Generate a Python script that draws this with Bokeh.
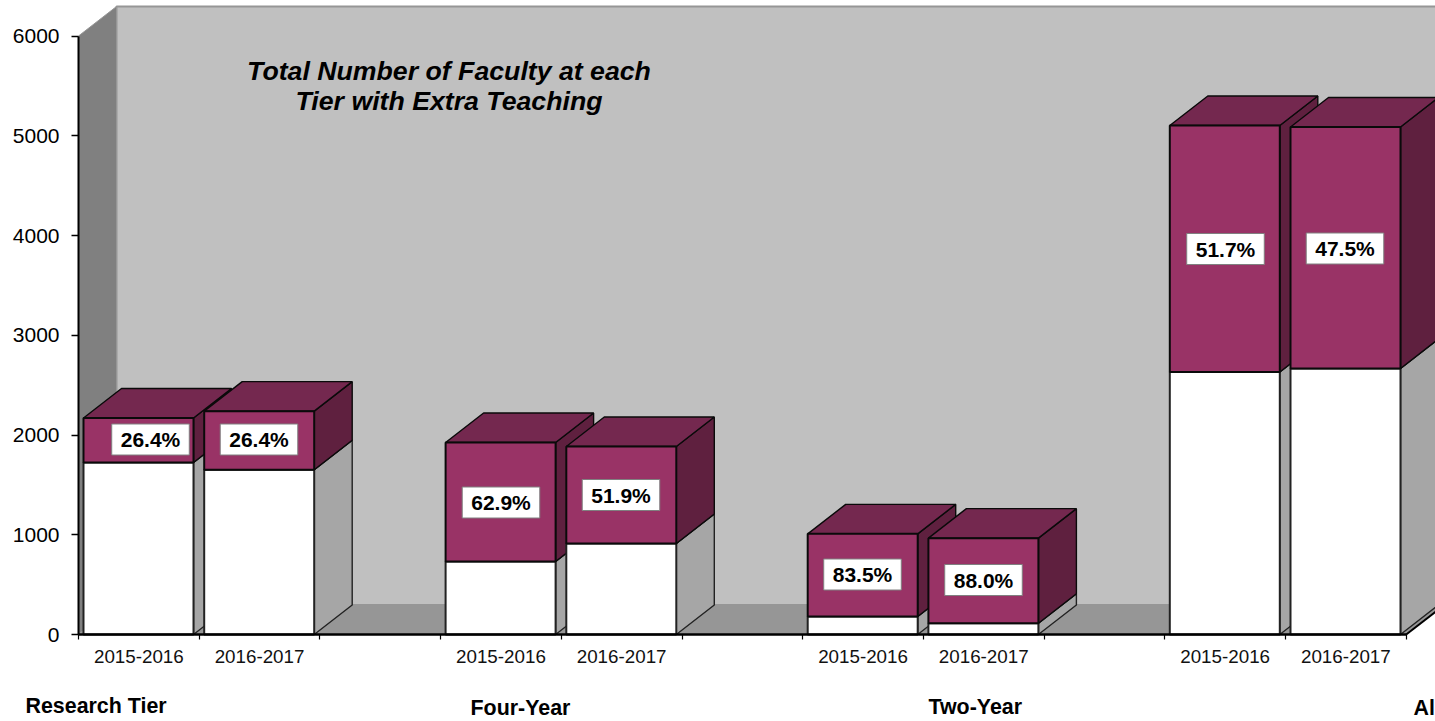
from bokeh.plotting import figure
from bokeh.embed import file_html
from bokeh.resources import INLINE
from bokeh.models import Range1d, FixedTicker, Label

# ---- data ----
categories = ["2015-2016", "2016-2017", "", "2015-2016", "2016-2017", "",
              "2015-2016", "2016-2017", "", "2015-2016", "2016-2017"]
base_values = [1724, 1651, None, 732, 912, None, 180, 113, None, 2632, 2667]
total_values = [2170, 2239, None, 1925, 1885, None, 1009, 966, None, 5103, 5088]
percent_labels = ["26.4%", "26.4%", "", "62.9%", "51.9%", "", "83.5%", "88.0%", "", "51.7%", "47.5%"]
y_ticks = [0, 1000, 2000, 3000, 4000, 5000, 6000]
title_lines = ["Total Number of Faculty at each", "Tier with Extra Teaching"]
tier_names = ["Research Tier", "Four-Year", "Two-Year", "Al"]

# ---- layout (screen pixels of the picture) ----
AX_X, AX_Y = 78, 634
SLOT_PX = 120.7
UNIT_PX = 99.75 / 1000
W, H = 1435, 721
DX = 38 / SLOT_PX
DY = 29.5 / UNIT_PX
BAR_OFF = 5 / SLOT_PX
BAR_W = 110 / SLOT_PX

def dx(px):
    return (px - AX_X) / SLOT_PX

def dy(py):
    return (AX_Y - py) / UNIT_PX

label_centers_px = [(150, 439), (258.5, 439), None, (500.5, 502), (620.5, 494.5), None,
                    (862, 574), (983, 579.5), None, (1225, 248.5), (1344.5, 248)]
tier_label_px = [(25, 705), (470, 707), (928, 706), (1413, 707)]
title_px = [(448.5, 70), (448.5, 100)]

WALL = "#C0C0C0"
SIDE_WALL = "#808080"
FLOOR = "#969696"
PLUM = "#993366"
PLUM_TOP = "#74284F"
PLUM_SIDE = "#5F203F"
WHITE_SIDE = "#A6A6A6"
FONT = "Liberation Sans"

n = len(categories)

p = figure(width=W, height=H, output_backend="svg", toolbar_location=None,
           x_range=Range1d(dx(0), dx(W)), y_range=Range1d(dy(H), dy(0)),
           min_border=0, outline_line_color=None,
           background_fill_color="white", border_fill_color="white")
p.grid.visible = False

# chart box: back wall, side wall, floor
p.quad(left=[DX], right=[n + DX], bottom=[DY], top=[6000 + DY], fill_color=WALL,
       line_color=FLOOR, line_width=2)
p.patch([0, DX, DX, 0], [6000, 6000 + DY, DY, 0], fill_color=SIDE_WALL, line_color=FLOOR, line_width=1)
p.patch([0, DX, n + DX, n], [0, DY, DY, 0], fill_color=FLOOR, line_color=FLOOR, line_width=1)
p.line([n, n + DX], [0, DY], line_color="black", line_width=2)

def box(x0, x1, y0, y1, front, top, side, edge):
    p.patch([x1, x1 + DX, x1 + DX, x1], [y0, y0 + DY, y1 + DY, y1],
            fill_color=side, line_color=edge, line_width=1.4)
    p.patch([x0, x0 + DX, x1 + DX, x1], [y1, y1 + DY, y1 + DY, y1],
            fill_color=top, line_color=edge, line_width=1.4)
    p.quad(left=[x0], right=[x1], bottom=[y0], top=[y1],
           fill_color=front, line_color=edge, line_width=2)

for i, (b, t) in enumerate(zip(base_values, total_values)):
    if b is None:
        continue
    x0, x1 = i + BAR_OFF, i + BAR_OFF + BAR_W
    box(x0, x1, 0, b, "white", "#D0D0D0", WHITE_SIDE, "#222222")
    box(x0, x1, b, t, PLUM, PLUM_TOP, PLUM_SIDE, "#0a0a0a")

# axes
p.yaxis.fixed_location = 0
p.yaxis.ticker = FixedTicker(ticks=y_ticks)
p.yaxis.bounds = (0, 6000)
p.yaxis.axis_line_color = "black"
p.yaxis.axis_line_width = 2
p.yaxis.major_tick_line_color = "black"
p.yaxis.major_tick_line_width = 1.5
p.yaxis.major_tick_out = 7
p.yaxis.major_tick_in = 0
p.yaxis.minor_tick_line_color = None
p.yaxis.major_label_text_font = FONT
p.yaxis.major_label_text_font_size = "21px"
p.yaxis.major_label_text_color = "black"
p.yaxis.major_label_standoff = 12
p.yaxis.formatter.use_scientific = False

centers = [i + 0.5 for i, c in enumerate(categories) if c]
p.xaxis.fixed_location = 0
p.xaxis.ticker = FixedTicker(ticks=centers, minor_ticks=list(range(n + 1)))
p.xaxis.major_label_overrides = {i + 0.5: c for i, c in enumerate(categories) if c}
p.xaxis.bounds = (0, n)
p.xaxis.axis_line_color = "black"
p.xaxis.axis_line_width = 2.5
p.xaxis.major_tick_out = 0
p.xaxis.major_tick_in = 0
p.xaxis.minor_tick_out = 5
p.xaxis.minor_tick_in = 0
p.xaxis.minor_tick_line_color = "black"
p.xaxis.minor_tick_line_width = 1.2
p.xaxis.major_label_text_font = FONT
p.xaxis.major_label_text_font_size = "18.8px"
p.xaxis.major_label_text_color = "#111111"
p.xaxis.major_label_standoff = 10

# percentage boxes
for txt, c in zip(percent_labels, label_centers_px):
    if c is None:
        continue
    p.add_layout(Label(x=dx(c[0]), y=dy(c[1]), text=txt, text_align="center", text_baseline="middle",
                       text_font=FONT, text_font_size="21px", text_font_style="bold", text_color="black",
                       background_fill_color="white", border_line_color="#808080", border_line_width=1,
                       padding=(9, 4)))

# title
for txt, c in zip(title_lines, title_px):
    p.add_layout(Label(x=dx(c[0]), y=dy(c[1]), text=txt, text_align="center", text_baseline="middle",
                       text_font=FONT, text_font_size="26.7px", text_font_style="bold italic",
                       text_color="black"))

# tier labels
for txt, c in zip(tier_names, tier_label_px):
    p.add_layout(Label(x=dx(c[0]), y=dy(c[1]), text=txt, text_align="left", text_baseline="middle",
                       text_font=FONT, text_font_size="21.4px", text_font_style="bold",
                       text_color="black"))

open("out.html", "w").write(file_html(p, INLINE))
